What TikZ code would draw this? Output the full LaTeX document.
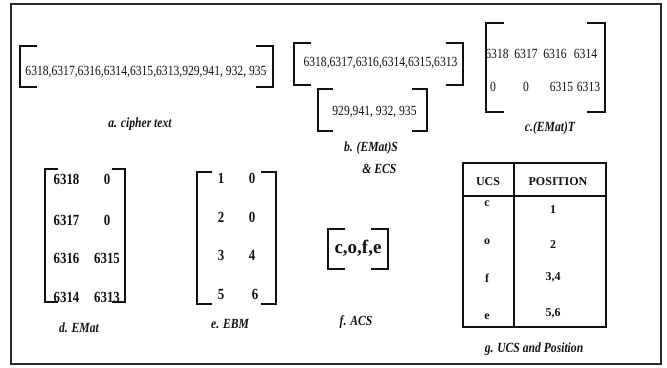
\documentclass[tikz,border=0pt]{standalone}
\usepackage{fontspec}
\setmainfont{Liberation Serif}
\newfontfamily\narrowserif[FakeStretch=0.83]{Liberation Serif}
\usepackage{xcolor}
\usepackage{tikz}
\definecolor{Ink}{HTML}{111111}
\definecolor{FrameGrey}{HTML}{2A2A2A}
% square brackets: left x, top y, right x, bottom y, serif length
\newcommand{\brkt}[5]{%
  \draw[brk] ({#1+#5},#2) -- (#1,#2) -- (#1,#4) -- ({#1+#5},#4);
  \draw[brk] ({#3-#5},#2) -- (#3,#2) -- (#3,#4) -- ({#3-#5},#4);}

\begin{document}
\begin{tikzpicture}[
  x=1pt,y=-1pt,
  every node/.style={inner sep=0pt,text=Ink},
  num/.style={font=\narrowserif\fontsize{14}{16}\selectfont},
  numb/.style={font=\narrowserif\bfseries\fontsize{15.5}{18}\selectfont},
  capt/.style={font=\narrowserif\bfseries\itshape\fontsize{14}{22}\selectfont,align=center},
  cell/.style={font=\bfseries\fontsize{12}{14}\selectfont},
  brk/.style={line width=1.8pt,Ink},
  frame/.style={line width=1.4pt,FrameGrey},
  rule/.style={line width=1.2pt,Ink}
]
\useasboundingbox (0,0) rectangle (667,367);
\draw[frame] (11,4) rectangle (661,364);

% a. cipher text
\brkt{20}{46}{273}{87}{17}
\node[num] (ct) at (146,72) {6318,6317,6316,6314,6315,6313,929,941, 932, 935};
\node[capt] (capA) at (140,124) {a. cipher text};

% b. (EMat)S & ECS
\brkt{294}{43}{463}{85}{17}
\node[num] (ems) at (380.5,63) {6318,6317,6316,6314,6315,6313};
\brkt{318}{89}{427}{131}{15}
\node[num] (ecs) at (374.5,112) {929,941, 932, 935};
\node[capt] (capB) at (371,158) {b. (EMat)S\\ \hspace*{1.2em}\& ECS};

% c. (EMat)T
\brkt{486}{23}{605}{112}{18}
\foreach \c/\x/\xx/\p/\q in {1/497/493/6318/0, 2/526/526/6317/0, 3/555/561.5/6316/6315, 4/585.5/588.5/6314/6313}{
  \node[num] (t-1-\c) at (\x,54) {\p};
  \node[num] (t-2-\c) at (\xx,87) {\q};
}
\node[capt] (capC) at (550,128) {c.(EMat)T};

% d. EMat
\brkt{45}{169}{125}{302}{13}
\foreach \r/\y/\p/\q in {1/179/6318/0, 2/220/6317/0, 3/258/6316/6315, 4/297/6314/6313}{
  \node[numb] (d-\r-1) at (66.5,\y) {\p};
  \node[numb] (d-\r-2) at (107,\y) {\q};
}
\node[capt] (capD) at (79,328) {d. EMat};

% e. EBM
\brkt{197}{172}{276}{304}{15}
\foreach \r/\y/\xx/\p/\q in {1/178/252/1/0, 2/217/252/2/0, 3/255/252/3/4, 4/294/255/5/6}{
  \node[numb] (e-\r-1) at (221,\y) {\p};
  \node[numb] (e-\r-2) at (\xx,\y) {\q};
}
\node[capt] (capE) at (230,324) {e. EBM};

% f. ACS
\brkt{328}{229}{388}{269}{17}
\node[font=\bfseries\fontsize{19}{22}\selectfont] (acs) at (358,248) {c,o,f,e};
\node[capt] (capF) at (356,322) {f. ACS};

% g. UCS and Position
\draw[rule] (463,163) rectangle (606,327);
\draw[rule] (514,163) -- (514,327);
\draw[line width=1.8pt,Ink] (463,196) -- (606,196);
\node[cell] (hU) at (488,182) {UCS};
\node[cell] (hP) at (558,182) {POSITION};
\foreach \r/\ya/\yb/\u/\p in {1/204/210/c/1, 2/242/245/o/2, 3/278/277/f/{3,4}, 4/317/313/e/{5,6}}{
  \node[cell] (u-\r) at (487,\ya) {\u};
  \node[cell] (p-\r) at (553,\yb) {\p};
}
\node[capt] (capG) at (534,349) {g. UCS and Position};
\end{tikzpicture}
\end{document}
